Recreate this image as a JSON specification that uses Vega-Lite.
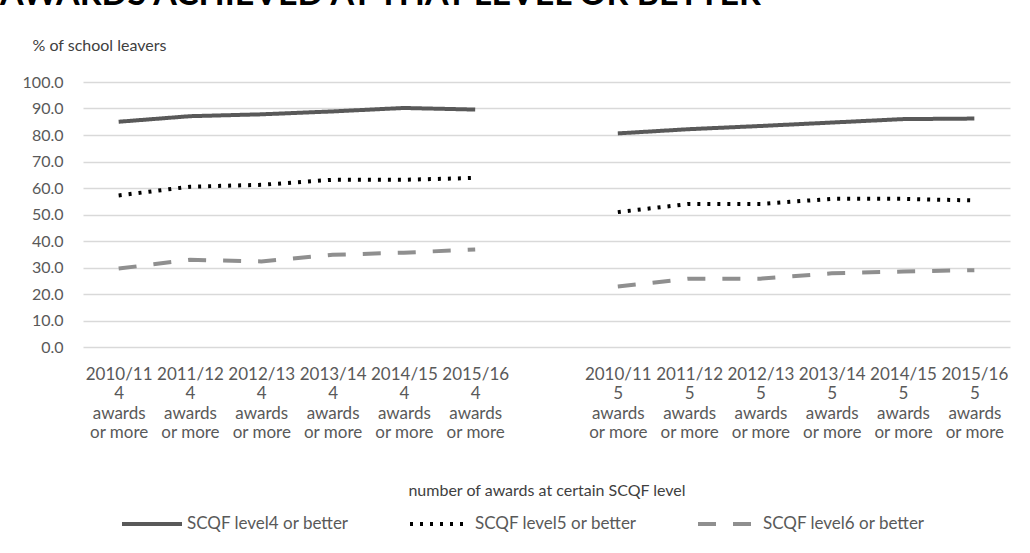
{
  "$schema": "https://vega.github.io/schema/vega-lite/v6.json",
  "width": 927,
  "height": 265,
  "autosize": {"type": "none"},
  "padding": {"left": 83, "top": 82, "right": 20, "bottom": 206},
  "background": "white",
  "title": {
    "text": "AWARDS ACHIEVED AT THAT LEVEL OR BETTER",
    "anchor": "start",
    "frame": "group",
    "orient": "top",
    "font": "Lato",
    "fontSize": 34,
    "fontWeight": "bold",
    "color": "#000000",
    "dx": -83,
    "offset": 0,
    "baseline": "alphabetic",
    "dy": 2
  },
  "config": {
    "view": {"stroke": null},
    "font": "Lato"
  },
  "data": {
    "values": [
      {"cat": "2010/11|4|awards|or more", "grp": "4", "series": "SCQF level4 or better", "value": 85.0},
      {"cat": "2011/12|4|awards|or more", "grp": "4", "series": "SCQF level4 or better", "value": 87.1},
      {"cat": "2012/13|4|awards|or more", "grp": "4", "series": "SCQF level4 or better", "value": 87.8},
      {"cat": "2013/14|4|awards|or more", "grp": "4", "series": "SCQF level4 or better", "value": 88.9},
      {"cat": "2014/15|4|awards|or more", "grp": "4", "series": "SCQF level4 or better", "value": 90.2},
      {"cat": "2015/16|4|awards|or more", "grp": "4", "series": "SCQF level4 or better", "value": 89.6},
      {"cat": "2010/11|5|awards|or more", "grp": "5", "series": "SCQF level4 or better", "value": 80.6},
      {"cat": "2011/12|5|awards|or more", "grp": "5", "series": "SCQF level4 or better", "value": 82.2},
      {"cat": "2012/13|5|awards|or more", "grp": "5", "series": "SCQF level4 or better", "value": 83.4},
      {"cat": "2013/14|5|awards|or more", "grp": "5", "series": "SCQF level4 or better", "value": 84.7},
      {"cat": "2014/15|5|awards|or more", "grp": "5", "series": "SCQF level4 or better", "value": 86.0},
      {"cat": "2015/16|5|awards|or more", "grp": "5", "series": "SCQF level4 or better", "value": 86.2},
      {"cat": "2010/11|4|awards|or more", "grp": "4", "series": "SCQF level5 or better", "value": 57.2},
      {"cat": "2011/12|4|awards|or more", "grp": "4", "series": "SCQF level5 or better", "value": 60.5},
      {"cat": "2012/13|4|awards|or more", "grp": "4", "series": "SCQF level5 or better", "value": 61.2},
      {"cat": "2013/14|4|awards|or more", "grp": "4", "series": "SCQF level5 or better", "value": 63.1},
      {"cat": "2014/15|4|awards|or more", "grp": "4", "series": "SCQF level5 or better", "value": 63.1},
      {"cat": "2015/16|4|awards|or more", "grp": "4", "series": "SCQF level5 or better", "value": 63.8},
      {"cat": "2010/11|5|awards|or more", "grp": "5", "series": "SCQF level5 or better", "value": 50.9},
      {"cat": "2011/12|5|awards|or more", "grp": "5", "series": "SCQF level5 or better", "value": 54.0},
      {"cat": "2012/13|5|awards|or more", "grp": "5", "series": "SCQF level5 or better", "value": 54.0},
      {"cat": "2013/14|5|awards|or more", "grp": "5", "series": "SCQF level5 or better", "value": 55.9},
      {"cat": "2014/15|5|awards|or more", "grp": "5", "series": "SCQF level5 or better", "value": 55.9},
      {"cat": "2015/16|5|awards|or more", "grp": "5", "series": "SCQF level5 or better", "value": 55.3},
      {"cat": "2010/11|4|awards|or more", "grp": "4", "series": "SCQF level6 or better", "value": 29.6},
      {"cat": "2011/12|4|awards|or more", "grp": "4", "series": "SCQF level6 or better", "value": 32.9},
      {"cat": "2012/13|4|awards|or more", "grp": "4", "series": "SCQF level6 or better", "value": 32.3},
      {"cat": "2013/14|4|awards|or more", "grp": "4", "series": "SCQF level6 or better", "value": 34.8},
      {"cat": "2014/15|4|awards|or more", "grp": "4", "series": "SCQF level6 or better", "value": 35.6},
      {"cat": "2015/16|4|awards|or more", "grp": "4", "series": "SCQF level6 or better", "value": 36.8},
      {"cat": "2010/11|5|awards|or more", "grp": "5", "series": "SCQF level6 or better", "value": 22.8},
      {"cat": "2011/12|5|awards|or more", "grp": "5", "series": "SCQF level6 or better", "value": 25.8},
      {"cat": "2012/13|5|awards|or more", "grp": "5", "series": "SCQF level6 or better", "value": 25.8},
      {"cat": "2013/14|5|awards|or more", "grp": "5", "series": "SCQF level6 or better", "value": 27.8},
      {"cat": "2014/15|5|awards|or more", "grp": "5", "series": "SCQF level6 or better", "value": 28.5},
      {"cat": "2015/16|5|awards|or more", "grp": "5", "series": "SCQF level6 or better", "value": 29.0}
    ]
  },
  "mark": {"type": "line", "strokeWidth": 4, "strokeCap": "butt"},
  "encoding": {
    "x": {
      "field": "cat",
      "type": "ordinal",
      "sort": null,
      "scale": {
        "type": "point",
        "padding": 0.5,
        "domain": [
          "2010/11|4|awards|or more", "2011/12|4|awards|or more", "2012/13|4|awards|or more",
          "2013/14|4|awards|or more", "2014/15|4|awards|or more", "2015/16|4|awards|or more",
          "gap",
          "2010/11|5|awards|or more", "2011/12|5|awards|or more", "2012/13|5|awards|or more",
          "2013/14|5|awards|or more", "2014/15|5|awards|or more", "2015/16|5|awards|or more"
        ]
      },
      "axis": {
        "title": "number of awards at certain SCQF level",
        "titleFont": "Lato",
        "titleFontSize": 16,
        "titleFontWeight": "normal",
        "titleColor": "#404040",
        "titlePadding": 42,
        "labelExpr": "datum.value == 'gap' ? '' : split(datum.value, '|')",
        "labelAngle": 0,
        "labelFont": "Lato",
        "labelFontSize": 17,
        "labelColor": "#595959",
        "labelLineHeight": 19.5,
        "labelBaseline": "top",
        "labelPadding": 19,
        "labelOverlap": false,
        "ticks": false,
        "domain": false,
        "grid": false
      }
    },
    "y": {
      "field": "value",
      "type": "quantitative",
      "scale": {"domain": [0, 100], "nice": false},
      "axis": {
        "values": [0, 10, 20, 30, 40, 50, 60, 70, 80, 90, 100],
        "format": ".1f",
        "title": "% of school leavers",
        "titleAngle": 0,
        "titleAlign": "left",
        "titleBaseline": "middle",
        "titleX": -51,
        "titleY": -37,
        "titleFont": "Lato",
        "titleFontSize": 16,
        "titleFontWeight": "normal",
        "titleColor": "#404040",
        "labelFont": "Lato",
        "labelFontSize": 16,
        "labelColor": "#595959",
        "labelPadding": 20,
        "ticks": false,
        "domain": false,
        "grid": true,
        "gridColor": "#d9d9d9",
        "gridWidth": 1.3
      }
    },
    "detail": {"field": "grp"},
    "color": {
      "field": "series",
      "type": "nominal",
      "scale": {
        "domain": ["SCQF level4 or better", "SCQF level5 or better", "SCQF level6 or better"],
        "range": ["#595959", "#000000", "#8f8f8f"]
      },
      "legend": {
        "title": null,
        "orient": "none",
        "legendX": 37,
        "legendY": 410,
        "direction": "horizontal",
        "symbolType": "stroke",
        "symbolSize": 3600,
        "symbolStrokeWidth": 4,
        "labelFont": "Lato",
        "labelFontSize": 17,
        "labelLimit": 0,
        "labelColor": "#595959",
        "labelOffset": 3,
        "columnPadding": 53
      }
    },
    "strokeDash": {
      "field": "series",
      "type": "nominal",
      "scale": {
        "domain": ["SCQF level4 or better", "SCQF level5 or better", "SCQF level6 or better"],
        "range": [[1, 0], [3, 7], [18, 17]]
      },
      "legend": {
        "title": null,
        "orient": "none",
        "legendX": 37,
        "legendY": 410,
        "direction": "horizontal",
        "symbolType": "stroke",
        "symbolSize": 3600,
        "symbolStrokeWidth": 4,
        "labelFont": "Lato",
        "labelFontSize": 17,
        "labelLimit": 0,
        "labelColor": "#595959",
        "labelOffset": 3,
        "columnPadding": 53
      }
    }
  }
}
